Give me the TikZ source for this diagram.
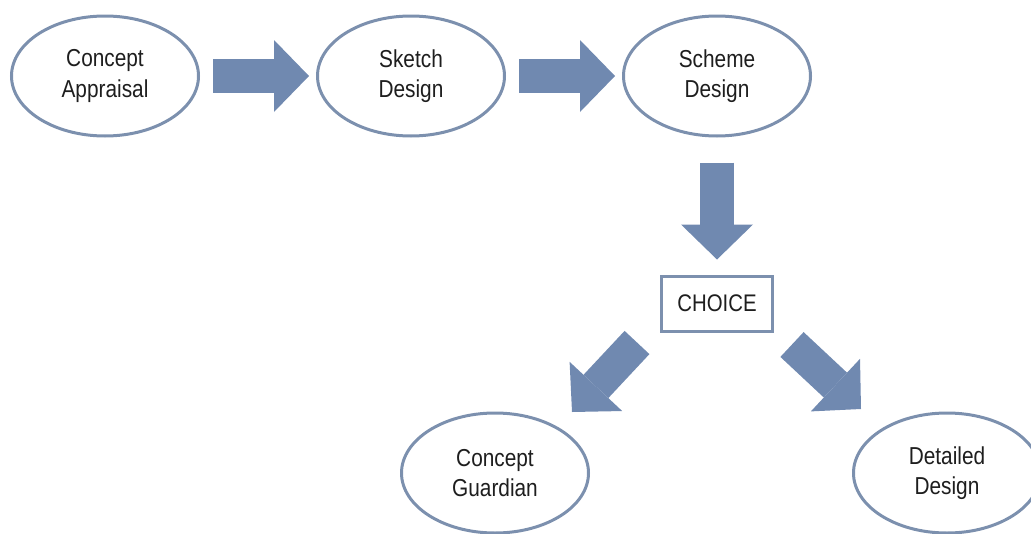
\documentclass[tikz,border=0pt]{standalone}
\usepackage{fontspec}
\setmainfont[FakeStretch=0.85]{Liberation Sans}
\usetikzlibrary{arrows.meta,positioning,shapes.geometric}
\definecolor{flowblue}{RGB}{112,137,176}
\definecolor{rimblue}{RGB}{124,144,174}
\definecolor{inkgray}{RGB}{30,30,30}

\begin{document}
\begin{tikzpicture}[x=1pt,y=-1pt,node distance=116pt,
  stage/.style={ellipse,draw=rimblue,line width=3pt,minimum width=187pt,
    minimum height=120pt,align=center,text=inkgray,
    font=\fontsize{24.5}{30.5}\selectfont},
  pick/.style={rectangle,draw=rimblue,line width=3pt,minimum width=111pt,
    minimum height=55pt,text=inkgray,font=\fontsize{24}{28}\selectfont},
  flow/.style={draw=flowblue,line width=34pt,
    -{Triangle[length=35pt,width=72pt,line width=0pt]}}]

  \useasboundingbox (0,0) rectangle (1031,533);

  \node[stage] (appraisal) at (105,76) {Concept\\Appraisal};
  \node[stage] (sketch) [right=of appraisal] {Sketch\\Design};
  \node[stage] (scheme) [right=of sketch] {Scheme\\Design};
  \node[pick] (choice) [below=137pt of scheme] {CHOICE};
  \node[stage] (guardian) at (495,473) {Concept\\Guardian};
  \node[stage] (detailed) at (947,473) {Detailed\\Design};

  % ends of the two slanted arrows
  \coordinate (gtail) at ([shift={(-23,10)}]choice.south west);
  \coordinate (gtip) at ([shift={(77,-61)}]guardian.center);
  \coordinate (dtail) at ([shift={(18,12)}]choice.south east);
  \coordinate (dtip) at ([shift={(-86,-64)}]detailed.center);

  \path
    (appraisal) edge [flow,shorten <=13pt,shorten >=7pt] (sketch)
    (sketch) edge [flow,shorten <=13pt,shorten >=7pt] (scheme)
    (scheme) edge [flow,shorten <=25pt,shorten >=15pt] (choice)
    (gtail) edge [flow] (gtip)
    (dtail) edge [flow] (dtip);

\end{tikzpicture}
\end{document}
